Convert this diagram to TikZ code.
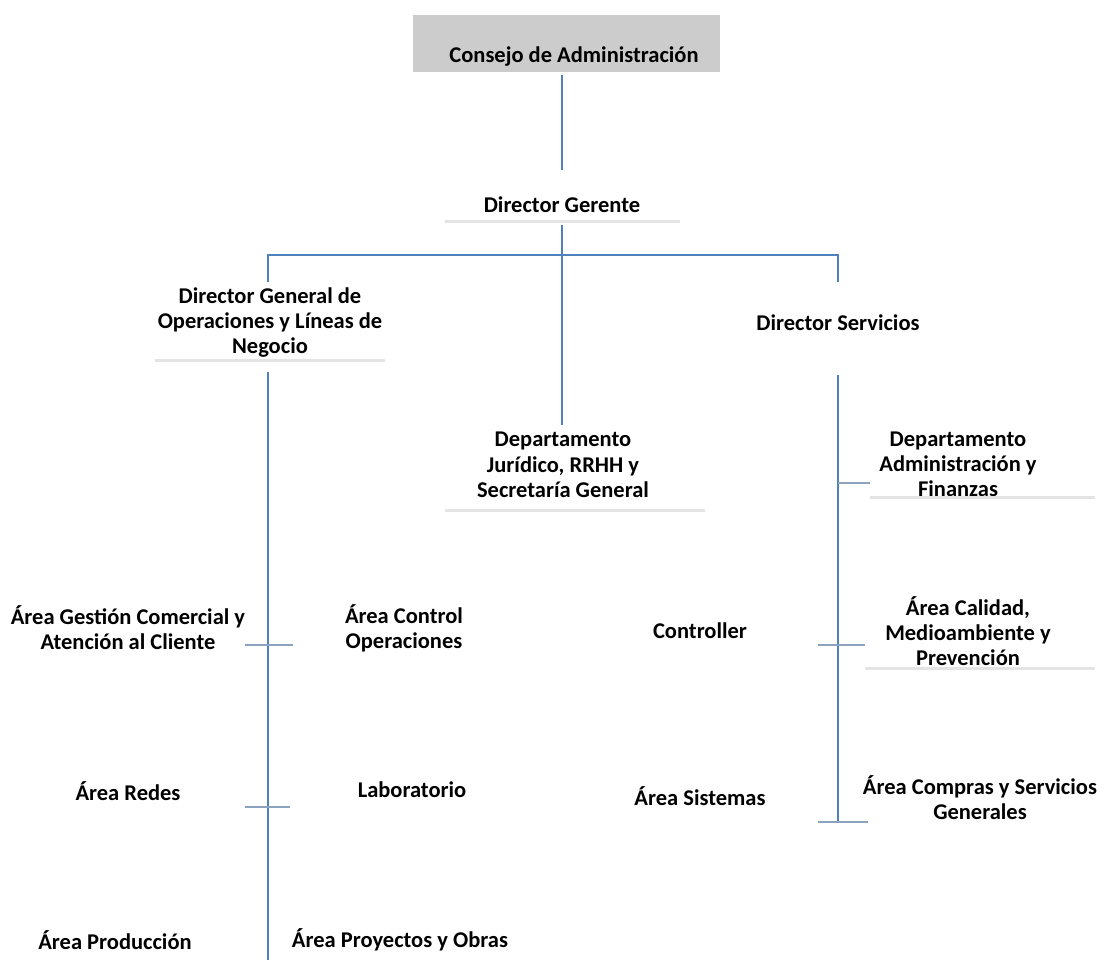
\documentclass[tikz,border=0pt]{standalone}
\usepackage{fontspec}
\setmainfont{Carlito}
\usepackage{tikz}
\definecolor{linea}{RGB}{79,129,189}
\definecolor{tick}{RGB}{140,163,192}
\definecolor{sombra}{RGB}{228,228,228}

\begin{document}
\begin{tikzpicture}[x=1pt, y=-1pt,
                    puesto/.style={align = center, inner sep = 0pt,
                    font = \fontsize{22.5}{25}\selectfont\bfseries},
                    caja/.style={rectangle, draw = none,
                    fill = gray!40, minimum width = 307pt, minimum height = 57pt},
                    conn/.style={draw = linea, line width = 2pt},
                    rama/.style={draw = tick, line width = 1.6pt},
                    sombraline/.style={draw = sombra, line width = 3pt}]

                    \useasboundingbox (0,0) rectangle (1104,960);

                    % cabecera
                    \node[caja] (consbox) at (566.5,43.5) {};
                    \node[puesto] (cons) at (574,57) {Consejo de Administración};
                    \node[puesto] (gerente) at (562,205) {Director Gerente};
                    \draw[sombraline] (445,222) -- (680,222);

                    % segundo nivel
                    \node[puesto] (dgops) at (270,323) {Director General de\\Operaciones y Líneas de\\Negocio};
                    \draw[sombraline] (155,360) -- (385,360);
                    \node[puesto] (dserv) at (838,323) {Director Servicios};
                    \node[puesto] (juridico) at (563,465) {Departamento\\[1pt]Jurídico, RRHH y\\Secretaría General};
                    \draw[sombraline] (445,510) -- (705,510);

                    % columna izquierda
                    \node[puesto] (comercial) at (128,628) {Área Gestión Comercial y\\Atención al Cliente};
                    \node[puesto] (control) at (404,628) {Área Control\\Operaciones};
                    \node[puesto] (redes) at (128,791) {Área Redes};
                    \node[puesto] (lab) at (412,790) {Laboratorio};
                    \node[puesto] (produccion) at (115,940) {Área Producción};
                    \node[puesto] (proyectos) at (400,940) {Área Proyectos y Obras};

                    % columna derecha
                    \node[puesto] (admin) at (958,464) {Departamento\\Administración y\\Finanzas};
                    \draw[sombraline] (870,497) -- (1095,497);
                    \node[puesto] (controller) at (700,631) {Controller};
                    \node[puesto] (calidad) at (968,631) {Área Calidad,\\Medioambiente y\\Prevención};
                    \draw[sombraline] (865,668) -- (1095,668);
                    \node[puesto] (sistemas) at (700,796) {Área Sistemas};
                    \node[puesto] (compras) at (980,798) {Área Compras y Servicios\\Generales};

                    % puntos de union
                    \coordinate (cA) at (562,75);
                    \coordinate (cB) at (562,170);
                    \coordinate (gA) at (562,225);
                    \coordinate (gB) at (562,425);
                    \coordinate (hL) at (268,255);
                    \coordinate (hR) at (838,255);
                    \coordinate (hLb) at (268,282);
                    \coordinate (hRb) at (838,282);
                    \coordinate (vLa) at (268,372);
                    \coordinate (vLb) at (268,960);
                    \coordinate (vRa) at (838,375);
                    \coordinate (vRb) at (838,822);

                    \draw[conn] (cA) -- (cB);
                    \draw[conn] (gA) -- (gB);
                    \draw[conn] (hLb) -- (hL) -- (hR) -- (hRb);
                    \draw[conn] (vLa) -- (vLb);
                    \draw[conn] (vRa) -- (vRb);

                    % ramas
                    \draw[rama] (838,483) -- (870,483);
                    \draw[rama] (245,645) -- (293,645);
                    \draw[rama] (818,645) -- (865,645);
                    \draw[rama] (245,807) -- (290,807);
                    \draw[rama] (818,822) -- (868,822);
                    \end{tikzpicture}
\end{document}
